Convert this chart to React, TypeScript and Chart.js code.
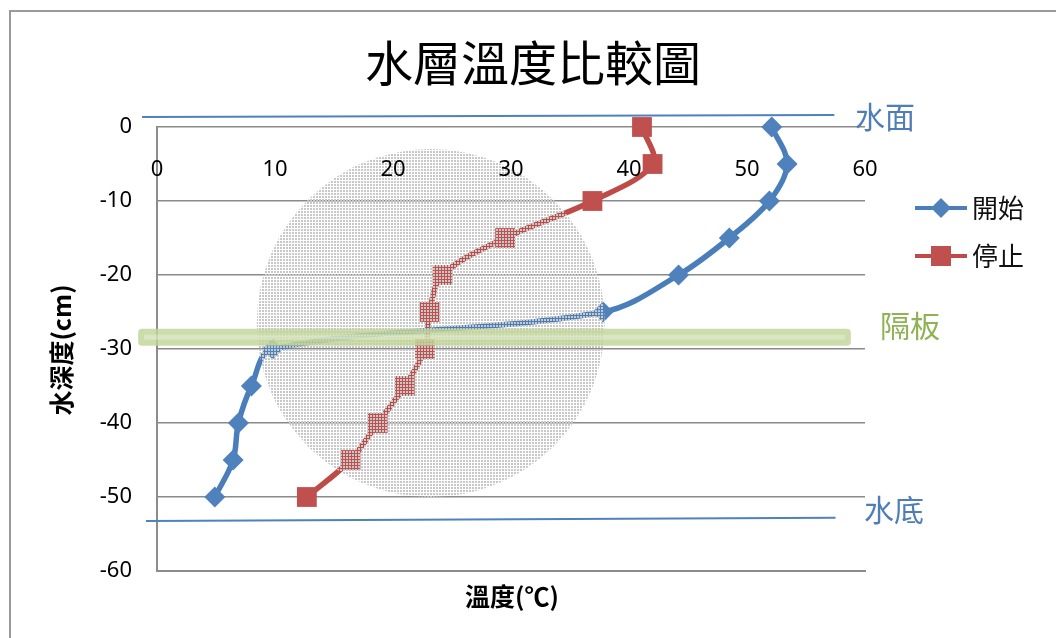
import React, { useEffect, useRef } from "react";
import { Chart, registerables } from "chart.js";

Chart.register(...registerables);

// Depth below the water surface (cm) and measured temperatures (℃)
const depths = [0, -5, -10, -15, -20, -25, -30, -35, -40, -45, -50];
const startTemps = [52.1, 53.4, 51.9, 48.5, 44.2, 37.8, 9.8, 8.0, 6.9, 6.45, 4.9];
const stopTemps = [41.1, 42.0, 36.9, 29.5, 24.2, 23.1, 22.7, 21.0, 18.7, 16.4, 12.7];
const seriesNames = ["開始", "停止"];

const W = 1056;
const H = 638;
const NUM_FONT = '"Noto Sans", "DejaVu Sans", sans-serif';
const CJK_FONT = '"Noto Sans CJK TC", "Noto Sans CJK SC", sans-serif';

const BLUE = "#4a7ebb";
const BLUE_MARK = "#4f81bd";
const RED = "#be4b48";
const RED_MARK = "#c0504d";
const GREEN = "rgba(193, 213, 152, 0.82)";

// fine mesh texture: gray cells with see-through gaps between them
function makeMeshPattern(ctx: CanvasRenderingContext2D) {
  const pc = document.createElement("canvas");
  pc.width = 3;
  pc.height = 3;
  const p = pc.getContext("2d")!;
  p.fillStyle = "rgb(200, 200, 200)";
  p.fillRect(1, 1, 2, 2);
  return ctx.createPattern(pc, "repeat");
}

const decorPlugin = {
  id: "decor",
  beforeDraw(chart: any) {
    const { ctx } = chart;
    ctx.save();
    ctx.fillStyle = "#ffffff";
    ctx.fillRect(0, 0, W, H);
    // outer frame
    ctx.strokeStyle = "#9a9a9a";
    ctx.lineWidth = 2;
    ctx.beginPath();
    ctx.moveTo(10, H + 2);
    ctx.lineTo(10, 11);
    ctx.lineTo(W + 2, 11);
    ctx.stroke();
    ctx.restore();
  },
  afterDatasetsDraw(chart: any) {
    const { ctx } = chart;
    const xs = chart.scales.x;
    const ys = chart.scales.y;
    const px = (v: number) => xs.getPixelForValue(v);
    const py = (v: number) => ys.getPixelForValue(v);
    ctx.save();

    // shaded region of interest
    const pattern = makeMeshPattern(ctx);
    ctx.fillStyle = pattern || "rgba(200,200,200,0.5)";
    ctx.beginPath();
    ctx.arc(px(23.2), py(-26.5), 174, 0, Math.PI * 2);
    ctx.fill();

    // partition board
    const bx0 = px(-1.6);
    const bx1 = px(58.8);
    const by = py(-28.4);
    ctx.fillStyle = GREEN;
    ctx.beginPath();
    (ctx as any).roundRect(bx0, by - 8.5, bx1 - bx0, 17, 4);
    ctx.fill();
    ctx.fillStyle = "rgba(255,255,255,0.28)";
    ctx.fillRect(bx0 + 6, by - 2.5, bx1 - bx0 - 12, 5);

    // water surface and bottom
    ctx.strokeStyle = BLUE_MARK;
    ctx.lineWidth = 2;
    ctx.beginPath();
    ctx.moveTo(px(-1.27), py(1.35));
    ctx.lineTo(px(57.4), py(1.62));
    ctx.stroke();
    ctx.beginPath();
    ctx.moveTo(px(-0.93), py(-53.24));
    ctx.lineTo(px(57.5), py(-52.8));
    ctx.stroke();

    ctx.textAlign = "center";
    ctx.textBaseline = "middle";
    ctx.font = `30px ${CJK_FONT}`;
    ctx.fillStyle = "#4f7db8";
    ctx.fillText("水面", 885, 117);
    ctx.fillText("水底", 894, 510);
    ctx.fillStyle = "#8fb254";
    ctx.fillText("隔板", 910, 326);

    // temperature tick labels, set inside the plot
    ctx.fillStyle = "#000000";
    ctx.font = `22px ${NUM_FONT}`;
    const labelY = py(-5.8);
    xs.ticks.forEach((t: any) => {
      ctx.fillText(String(t.value), px(t.value), labelY);
    });

    // title
    ctx.font = `48px ${CJK_FONT}`;
    ctx.fillText("水層溫度比較圖", 533, 63);

    // axis titles
    ctx.font = `bold 25px ${CJK_FONT}`;
    ctx.fillText("溫度(℃)", 512, 596);
    ctx.save();
    ctx.translate(61, 350);
    ctx.rotate(-Math.PI / 2);
    ctx.font = `bold 25px ${CJK_FONT}`;
    ctx.fillText("水深度(cm)", 0, 0);
    ctx.restore();

    // legend
    const legendRows = [208, 256];
    chart.data.datasets.forEach((ds: any, i: number) => {
      const y = legendRows[i];
      ctx.strokeStyle = ds.borderColor;
      ctx.lineWidth = 4;
      ctx.beginPath();
      ctx.moveTo(915, y);
      ctx.lineTo(967, y);
      ctx.stroke();
      ctx.fillStyle = ds.pointBackgroundColor;
      ctx.beginPath();
      if (ds.pointStyle === "rectRot") {
        const r = 10;
        ctx.moveTo(941, y - r);
        ctx.lineTo(941 + r, y);
        ctx.lineTo(941, y + r);
        ctx.lineTo(941 - r, y);
        ctx.closePath();
      } else {
        ctx.rect(931, y - 10, 20, 20);
      }
      ctx.fill();
      ctx.fillStyle = "#111111";
      ctx.textAlign = "left";
      ctx.font = `26px ${CJK_FONT}`;
      ctx.fillText(ds.label, 972, y);
    });

    ctx.restore();
  },
};

export default function App() {
  const ref = useRef<HTMLCanvasElement | null>(null);

  useEffect(() => {
    document.body.style.margin = "0";
    const canvas = ref.current;
    if (!canvas) return;
    const toPoints = (temps: number[]) => temps.map((t, i) => ({ x: t, y: depths[i] }));

    const chart = new Chart(canvas, {
      type: "line",
      data: {
        datasets: [
          {
            label: seriesNames[0],
            data: toPoints(startTemps),
            borderColor: BLUE,
            backgroundColor: BLUE_MARK,
            pointBackgroundColor: BLUE_MARK,
            pointBorderColor: BLUE_MARK,
            pointStyle: "rectRot",
            pointRadius: 10.5,
            pointBorderWidth: 0,
            borderWidth: 5.5,
            tension: 0.35,
            clip: false as any,
          },
          {
            label: seriesNames[1],
            data: toPoints(stopTemps),
            borderColor: RED,
            backgroundColor: RED_MARK,
            pointBackgroundColor: RED_MARK,
            pointBorderColor: RED_MARK,
            pointStyle: "rect",
            pointRadius: 14,
            pointBorderWidth: 0,
            borderWidth: 5.5,
            tension: 0.35,
            clip: false as any,
          },
        ],
      },
      options: {
        responsive: false,
        animation: false,
        layout: { padding: { top: 127, left: 0, right: W - 865, bottom: H - 571 } },
        plugins: {
          legend: { display: false },
          title: { display: false },
          tooltip: { enabled: false },
        },
        scales: {
          x: {
            type: "linear",
            position: "bottom",
            min: 0,
            max: 60,
            ticks: { display: false, stepSize: 10 },
            grid: { display: false },
            border: { display: true, color: "#8c8c8c", width: 2 },
            afterFit: (s: any) => {
              s.height = 0;
            },
          },
          y: {
            type: "linear",
            min: -60,
            max: 0,
            ticks: {
              stepSize: 10,
              padding: 25,
              color: "#000000",
              font: { family: NUM_FONT, size: 22 },
            },
            grid: { color: "#8a8a8a", lineWidth: 1.5, drawTicks: false },
            border: { display: true, color: "#8c8c8c", width: 2 },
            afterFit: (s: any) => {
              s.width = 157;
            },
          },
        },
      },
      plugins: [decorPlugin],
    });
    return () => chart.destroy();
  }, []);

  return <canvas ref={ref} width={W} height={H} style={{ display: "block", width: W, height: H }} />;
}
